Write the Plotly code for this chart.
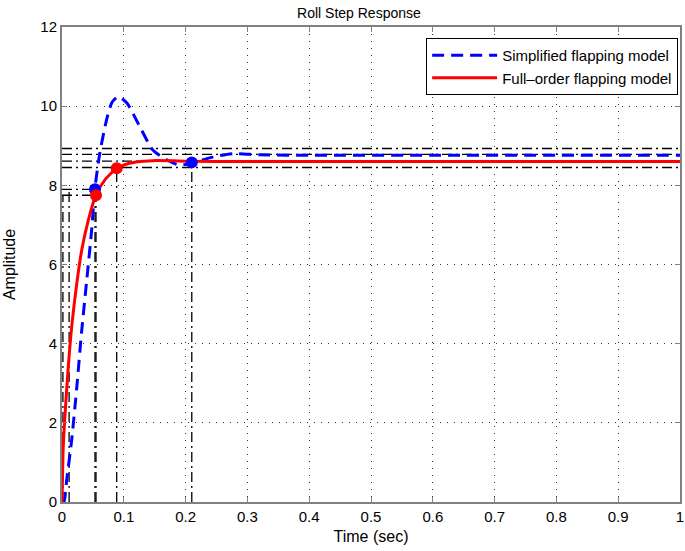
import plotly.graph_objects as go

t_simple = [0.0, 0.003, 0.0075, 0.0157, 0.024, 0.032, 0.04, 0.048, 0.0534, 0.061, 0.072,
            0.081, 0.091, 0.105, 0.126, 0.147, 0.17, 0.19, 0.21, 0.245, 0.277, 0.32, 0.4, 0.6, 0.8, 1.0]
y_simple = [0.0, 0.0, 0.55, 1.57, 2.91, 4.35, 5.6, 6.87, 7.94, 8.8, 9.65,
            10.1, 10.24, 10.08, 9.48, 8.89, 8.64, 8.51, 8.56, 8.72, 8.8, 8.77, 8.76, 8.76, 8.76, 8.76]

t_full = [0.0, 0.002, 0.005, 0.0102, 0.0157, 0.024, 0.032, 0.0426, 0.055, 0.07, 0.0885,
          0.105, 0.126, 0.153, 0.2, 0.3, 0.5, 0.75, 1.0]
y_full = [0.0, 1.4, 2.24, 3.42, 4.43, 5.53, 6.37, 7.12, 7.76, 8.15, 8.43,
          8.54, 8.6, 8.63, 8.61, 8.6, 8.6, 8.6, 8.6]

# characteristics: rise time / settling time points
rise_simple = (0.0534, 7.9)
rise_full = (0.055, 7.75)
settle_full = (0.0885, 8.43)
settle_simple = (0.21, 8.58)
rise_start_t = [0.0015, 0.0115]
rise_start_y = [7.75, 7.9]
band_levels = [8.93, 8.78, 8.61, 8.45]

blk = dict(color="black", width=1.3, dash="10px,4px,2px,4px")

fig = go.Figure()

# settling bands
for lv in band_levels:
    fig.add_trace(go.Scatter(x=[0, 1], y=[lv, lv], mode="lines", line=blk,
                             showlegend=False, hoverinfo="skip"))
# rise-time level lines
for pt in [rise_simple, rise_full]:
    fig.add_trace(go.Scatter(x=[0, pt[0]], y=[pt[1], pt[1]], mode="lines", line=blk,
                             showlegend=False, hoverinfo="skip"))
# vertical markers
for pt in [rise_simple, rise_full, settle_full, settle_simple]:
    fig.add_trace(go.Scatter(x=[pt[0], pt[0]], y=[0, pt[1]], mode="lines", line=blk,
                             showlegend=False, hoverinfo="skip"))
for tt, yy in zip(rise_start_t, rise_start_y):
    fig.add_trace(go.Scatter(x=[tt, tt], y=[0, yy], mode="lines", line=blk,
                             showlegend=False, hoverinfo="skip"))

fig.add_trace(go.Scatter(x=t_simple, y=y_simple, mode="lines", name="Simplified flapping model",
                         line=dict(color="#0000ff", width=3, dash="12px,7px", shape="spline", smoothing=0.6)))
fig.add_trace(go.Scatter(x=t_full, y=y_full, mode="lines", name="Full\u2013order flapping model",
                         line=dict(color="#ff0000", width=3, shape="spline", smoothing=0.6)))

fig.add_trace(go.Scatter(x=[rise_simple[0], settle_simple[0]], y=[rise_simple[1], settle_simple[1]],
                         mode="markers", marker=dict(color="#0000ff", size=12),
                         showlegend=False, hoverinfo="skip"))
fig.add_trace(go.Scatter(x=[rise_full[0], settle_full[0]], y=[rise_full[1], settle_full[1]],
                         mode="markers", marker=dict(color="#ff0000", size=12),
                         showlegend=False, hoverinfo="skip"))

axis_common = dict(showline=True, linecolor="#808080", linewidth=2, mirror="ticks",
                   ticks="inside", ticklen=5, tickcolor="#808080",
                   showgrid=True, gridcolor="#333333", gridwidth=1, griddash="1px,6px",
                   zeroline=False, automargin=False, tickfont=dict(size=15, color="black"))

fig.update_layout(
    width=685, height=551,
    margin=dict(l=62, r=5, t=27, b=49, autoexpand=False),
    plot_bgcolor="white", paper_bgcolor="white",
    font=dict(family="Liberation Sans, Arial, sans-serif", size=15, color="black"),
    title=dict(text="Roll Step Response", x=0.524, xanchor="center", xref="container",
               y=0.985, yanchor="top", font=dict(size=14)),
    xaxis=dict(range=[0, 1], tickvals=[0, 0.1, 0.2, 0.3, 0.4, 0.5, 0.6, 0.7, 0.8, 0.9, 1],
               ticktext=["0", "0.1", "0.2", "0.3", "0.4", "0.5", "0.6", "0.7", "0.8", "0.9", "1"],
               title=dict(text="Time (sec)", standoff=7, font=dict(size=16)), **axis_common),
    yaxis=dict(range=[0, 12], tickvals=[0, 2, 4, 6, 8, 10, 12],
               title=dict(text="Amplitude", standoff=21, font=dict(size=16)), **axis_common),
    legend=dict(x=0.997, xanchor="right", y=0.977, yanchor="top", bgcolor="white",
                bordercolor="black", borderwidth=1, font=dict(size=15),
                tracegroupgap=0, itemwidth=65),
)

fig.write_html("out.html", config={"displayModeBar": False},
               post_script="document.body.style.margin='0';")
